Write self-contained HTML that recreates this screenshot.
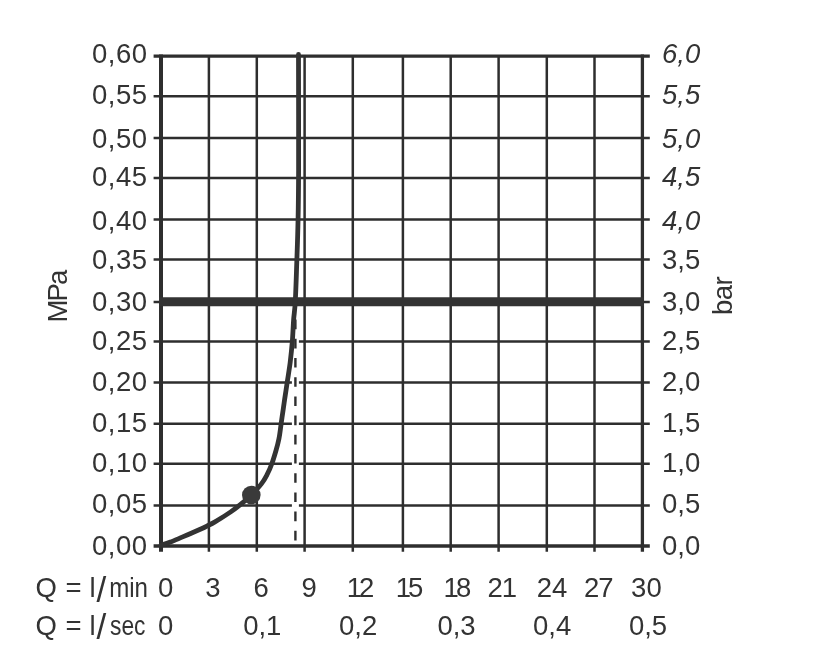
<!DOCTYPE html>
<html><head><meta charset="utf-8"><title>Chart</title>
<style>
html,body{margin:0;padding:0;background:#fff;}
svg{display:block;}
text{font-family:"Liberation Sans",sans-serif;font-size:27.5px;fill:#333;}
</style></head><body>
<svg width="815" height="662" viewBox="0 0 815 662">
<rect width="815" height="662" fill="#fff"/>
<g stroke="#2e2e2e" stroke-width="2.5" fill="none">
<line x1="153.6" y1="96.2" x2="649.8" y2="96.2"/>
<line x1="153.6" y1="138.1" x2="649.8" y2="138.1"/>
<line x1="153.6" y1="177.9" x2="649.8" y2="177.9"/>
<line x1="153.6" y1="219.6" x2="649.8" y2="219.6"/>
<line x1="153.6" y1="259.4" x2="649.8" y2="259.4"/>
<line x1="153.6" y1="301.9" x2="649.8" y2="301.9"/>
<line x1="153.6" y1="341.6" x2="649.8" y2="341.6"/>
<line x1="153.6" y1="382.4" x2="649.8" y2="382.4"/>
<line x1="153.6" y1="423.8" x2="649.8" y2="423.8"/>
<line x1="153.6" y1="463.8" x2="649.8" y2="463.8"/>
<line x1="153.6" y1="505.5" x2="649.8" y2="505.5"/>
<line x1="208.9" y1="56" x2="208.9" y2="551.7"/>
<line x1="256.8" y1="56" x2="256.8" y2="551.7"/>
<line x1="304.6" y1="56" x2="304.6" y2="551.7"/>
<line x1="352.8" y1="56" x2="352.8" y2="551.7"/>
<line x1="402.9" y1="56" x2="402.9" y2="551.7"/>
<line x1="450.7" y1="56" x2="450.7" y2="551.7"/>
<line x1="498.6" y1="56" x2="498.6" y2="551.7"/>
<line x1="546.8" y1="56" x2="546.8" y2="551.7"/>
<line x1="594.5" y1="56" x2="594.5" y2="551.7"/>
</g>
<g stroke="#2e2e2e" fill="none">
<line x1="153.6" y1="56.2" x2="649.8" y2="56.2" stroke-width="3.2"/>
<line x1="153.6" y1="546.1" x2="649.8" y2="546.1" stroke-width="3.5"/>
<line x1="161.0" y1="54.6" x2="161.0" y2="551.7" stroke-width="4"/>
<line x1="642.4" y1="54.6" x2="642.4" y2="551.7" stroke-width="3.3"/>
</g>
<line x1="159" y1="301.85" x2="644" y2="301.85" stroke="#333" stroke-width="9"/>
<line x1="295.4" y1="318" x2="295.4" y2="543.8" stroke="#fff" stroke-width="7"/>
<line x1="295.4" y1="319.6" x2="295.4" y2="541" stroke="#2e2e2e" stroke-width="2.4" stroke-dasharray="9.6 9.6"/>
<path d="M161.0 545.2 C162.6 544.7 166.8 543.5 170.4 542.1 C174.0 540.7 179.1 538.4 182.7 536.9 C186.3 535.4 188.6 534.4 191.8 533.0 C195.0 531.6 199.1 529.8 202.0 528.5 C204.9 527.2 206.8 526.1 209.0 525.0 C211.2 523.9 212.9 523.0 215.0 521.8 C217.1 520.6 218.6 519.7 221.3 518.0 C224.0 516.3 227.8 513.9 231.1 511.6 C234.4 509.3 237.5 507.0 240.9 504.2 C244.3 501.4 247.9 498.4 251.3 495.0 C254.7 491.6 258.7 487.4 261.4 483.9 C264.1 480.4 265.5 477.6 267.3 474.2 C269.1 470.8 270.6 467.2 272.0 463.3 C273.4 459.4 274.8 454.6 276.0 450.5 C277.2 446.4 278.1 442.8 279.0 438.4 C279.9 434.0 280.4 428.9 281.1 423.9 C281.8 418.8 282.7 412.9 283.4 408.1 C284.1 403.3 284.6 399.4 285.3 395.0 C286.0 390.6 286.5 387.1 287.3 381.7 C288.1 376.2 289.4 368.9 290.2 362.3 C291.0 355.7 291.7 348.9 292.3 341.8 C292.9 334.8 293.1 326.8 293.6 320.0 C294.1 313.2 294.8 311.2 295.3 301.0 C295.9 290.8 296.4 272.8 296.9 259.0 C297.4 245.2 297.8 232.8 298.1 218.0 C298.4 203.2 298.5 197.2 298.6 170.0 C298.7 142.8 298.5 73.8 298.5 54.5" stroke="#333" stroke-width="4.8" fill="none" stroke-linecap="round" stroke-linejoin="round"/>
<circle cx="251.3" cy="495" r="9.3" fill="#3a3a3a"/>
<text x="147.6" y="62.5" text-anchor="end" letter-spacing="0.5">0,60</text>
<text x="700.3" y="62.5" text-anchor="end" font-style="italic">6,0</text>
<text x="147.6" y="103.5" text-anchor="end" letter-spacing="0.5">0,55</text>
<text x="700.3" y="103.5" text-anchor="end" font-style="italic">5,5</text>
<text x="147.6" y="147.7" text-anchor="end" letter-spacing="0.5">0,50</text>
<text x="700.3" y="147.7" text-anchor="end" font-style="italic">5,0</text>
<text x="147.6" y="186.2" text-anchor="end" letter-spacing="0.5">0,45</text>
<text x="700.3" y="186.2" text-anchor="end" font-style="italic">4,5</text>
<text x="147.6" y="229.6" text-anchor="end" letter-spacing="0.5">0,40</text>
<text x="700.3" y="229.6" text-anchor="end" font-style="italic">4,0</text>
<text x="147.6" y="268.5" text-anchor="end" letter-spacing="0.5">0,35</text>
<text x="700.3" y="268.5" text-anchor="end">3,5</text>
<text x="147.6" y="311.2" text-anchor="end" letter-spacing="0.5">0,30</text>
<text x="700.3" y="311.2" text-anchor="end">3,0</text>
<text x="147.6" y="349.7" text-anchor="end" letter-spacing="0.5">0,25</text>
<text x="700.3" y="349.7" text-anchor="end">2,5</text>
<text x="147.6" y="390.8" text-anchor="end" letter-spacing="0.5">0,20</text>
<text x="700.3" y="390.8" text-anchor="end">2,0</text>
<text x="147.6" y="432.2" text-anchor="end" letter-spacing="0.5">0,15</text>
<text x="700.3" y="432.2" text-anchor="end">1,5</text>
<text x="147.6" y="472.0" text-anchor="end" letter-spacing="0.5">0,10</text>
<text x="700.3" y="472.0" text-anchor="end">1,0</text>
<text x="147.6" y="512.6" text-anchor="end" letter-spacing="0.5">0,05</text>
<text x="700.3" y="512.6" text-anchor="end">0,5</text>
<text x="147.6" y="554.6" text-anchor="end" letter-spacing="0.5">0,00</text>
<text x="700.3" y="554.6" text-anchor="end">0,0</text>
<text transform="translate(66.5 297) rotate(-90)" text-anchor="middle" letter-spacing="-1.8">MPa</text>
<text transform="translate(732.2 296) rotate(-90)" text-anchor="middle" letter-spacing="-0.6">bar</text>
<text y="597.2"><tspan x="35.4">Q </tspan><tspan x="65.5">= </tspan><tspan x="89.6">l</tspan><tspan x="96.6" dy="4.3" font-size="35">/</tspan><tspan x="109.2" dy="-4.3" textLength="38.8" lengthAdjust="spacingAndGlyphs">min</tspan></text>
<text y="635.0"><tspan x="35.4">Q </tspan><tspan x="65.5">= </tspan><tspan x="89.6">l</tspan><tspan x="96.6" dy="4.3" font-size="35">/</tspan><tspan x="110.0" dy="-4.3" textLength="35.5" lengthAdjust="spacingAndGlyphs">sec</tspan></text>
<text x="165.7" y="597.2" text-anchor="middle">0</text>
<text x="212.9" y="597.2" text-anchor="middle">3</text>
<text x="261.2" y="597.2" text-anchor="middle">6</text>
<text x="309.1" y="597.2" text-anchor="middle">9</text>
<text x="359.0" y="597.2" text-anchor="middle" letter-spacing="-3">12</text>
<text x="408.1" y="597.2" text-anchor="middle" letter-spacing="-3">15</text>
<text x="455.9" y="597.2" text-anchor="middle" letter-spacing="-3">18</text>
<text x="501.7" y="597.2" text-anchor="middle" letter-spacing="-1">21</text>
<text x="552.0" y="597.2" text-anchor="middle">24</text>
<text x="598.2" y="597.2" text-anchor="middle" letter-spacing="-1">27</text>
<text x="646.4" y="597.2" text-anchor="middle">30</text>
<text x="165.7" y="635.0" text-anchor="middle">0</text>
<text x="262.3" y="635.0" text-anchor="middle">0,1</text>
<text x="358.1" y="635.0" text-anchor="middle">0,2</text>
<text x="456.5" y="635.0" text-anchor="middle">0,3</text>
<text x="552.2" y="635.0" text-anchor="middle">0,4</text>
<text x="648.0" y="635.0" text-anchor="middle">0,5</text>
</svg>
</body></html>
